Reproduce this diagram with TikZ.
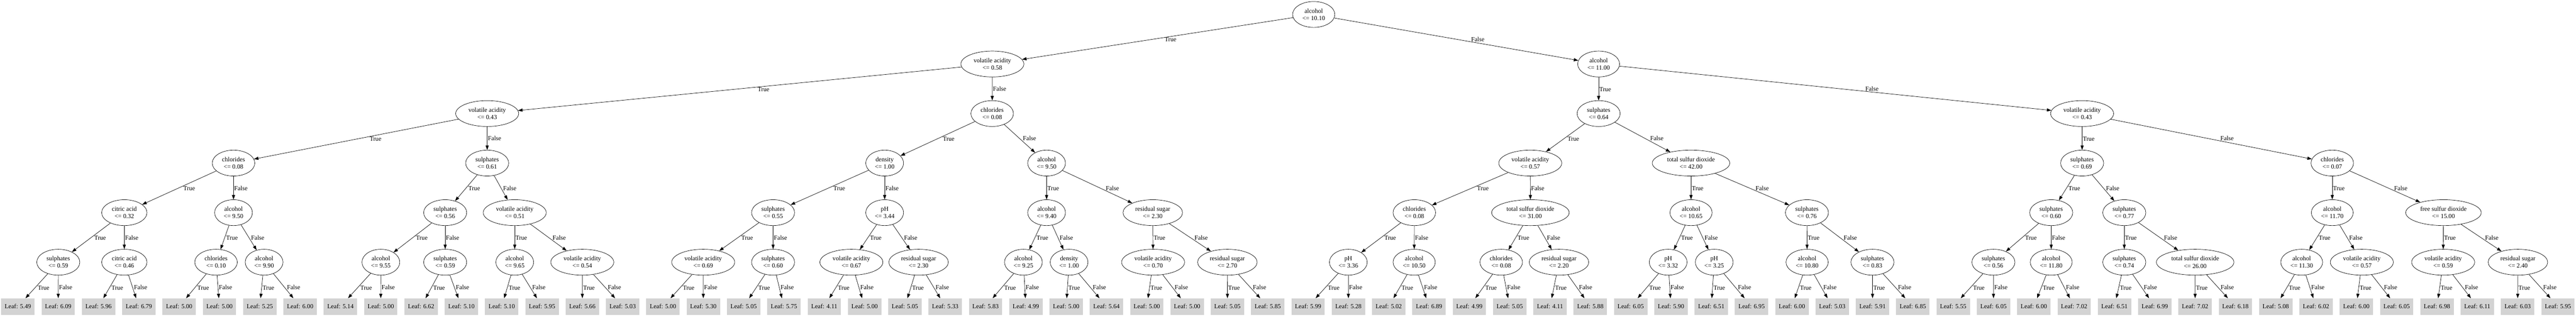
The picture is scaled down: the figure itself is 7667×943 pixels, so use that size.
\documentclass[tikz,border=0pt]{standalone}
\usepackage{fontspec}
\setmainfont{Liberation Serif}
\usetikzlibrary{shapes.geometric,arrows.meta,calc}
\newcommand\gvfont{\fontsize{14}{16.5}\selectfont}
\definecolor{leafgrey}{HTML}{D3D3D3}
\tikzset{
  dn/.style={ellipse, draw, line width=0.8pt, inner xsep=7.92pt, inner ysep=1pt,
    minimum height=57.75pt, minimum width=54pt, align=center, font=\gvfont},
  leaf/.style={rectangle, fill=leafgrey, inner xsep=7.92pt, inner ysep=1pt,
    minimum height=36.75pt, minimum width=54pt, font=\gvfont},
  edge/.style={draw, line width=0.8pt, -{Triangle[length=10pt,width=7pt]}},
  elab/.style={inner sep=0pt, font=\gvfont}
}
\newcommand\tedge[3]{%
  \draw[edge] (#1) -- (#2);
  \node[elab, anchor=north west] at ([xshift=1.5pt]$(#1)!#3!(#2)$) {True};}
\newcommand\fedge[3]{%
  \draw[edge] (#1) -- (#2);
  \node[elab, anchor=south west] at ([xshift=1.5pt]$(#1)!#3!(#2)$) {False};}
\begin{document}
\begin{tikzpicture}[x=0.75pt, y=-0.75pt]
\path[use as bounding box, fill=white] (0,0) rectangle (7667,943);
% level 0
\node[dn] (R) at (3910,43) {alcohol\\<= 10.10};
% level 1
\node[dn] (A0) at (2953.5,190.4) {volatile acidity\\<= 0.58};
\node[dn] (A1) at (4758,190.4) {alcohol\\<= 11.00};
% level 2
\node[dn] (B0) at (1450,337.8) {volatile acidity\\<= 0.43};
\node[dn] (B1) at (2953,337.8) {chlorides\\<= 0.08};
\node[dn] (B2) at (4758,337.8) {sulphates\\<= 0.64};
\node[dn] (B3) at (6197,337.8) {volatile acidity\\<= 0.43};
% level 3
\node[dn] (C0) at (695,485.2) {chlorides\\<= 0.08};
\node[dn] (C1) at (1450,485.2) {sulphates\\<= 0.61};
\node[dn] (C2) at (2633,485.2) {density\\<= 1.00};
\node[dn] (C3) at (3115,485.2) {alcohol\\<= 9.50};
\node[dn] (C4) at (4554.5,485.2) {volatile acidity\\<= 0.57};
\node[dn] (C5) at (5033,485.2) {total sulfur dioxide\\<= 42.00};
\node[dn] (C6) at (6197,485.2) {sulphates\\<= 0.69};
\node[dn] (C7) at (6941.5,485.2) {chlorides\\<= 0.07};
% level 4
\node[dn] (D0) at (370,632.6) {citric acid\\<= 0.32};
\node[dn] (D1) at (695,632.6) {alcohol\\<= 9.50};
\node[dn] (D2) at (1325,632.6) {sulphates\\<= 0.56};
\node[dn] (D3) at (1532,632.6) {volatile acidity\\<= 0.51};
\node[dn] (D4) at (2301,632.6) {sulphates\\<= 0.55};
\node[dn] (D5) at (2633,632.6) {pH\\<= 3.44};
\node[dn] (D6) at (3115,632.6) {alcohol\\<= 9.40};
\node[dn] (D7) at (3431,632.6) {residual sugar\\<= 2.30};
\node[dn] (D8) at (4209.5,632.6) {chlorides\\<= 0.08};
\node[dn] (D9) at (4555,632.6) {total sulfur dioxide\\<= 31.00};
\node[dn] (D10) at (5033,632.6) {alcohol\\<= 10.65};
\node[dn] (D11) at (5378,632.6) {sulphates\\<= 0.76};
\node[dn] (D12) at (6105,632.6) {sulphates\\<= 0.60};
\node[dn] (D13) at (6322.5,632.6) {sulphates\\<= 0.77};
\node[dn] (D14) at (6941.5,632.6) {alcohol\\<= 11.70};
\node[dn] (D15) at (7272.5,632.6) {free sulfur dioxide\\<= 15.00};
% level 5
\node[dn] (E0) at (173.5,780) {sulphates\\<= 0.59};
\node[dn] (E1) at (370,780) {citric acid\\<= 0.46};
\node[dn] (E2) at (643,780) {chlorides\\<= 0.10};
\node[dn] (E3) at (786,780) {alcohol\\<= 9.90};
\node[dn] (E4) at (1133.5,780) {alcohol\\<= 9.55};
\node[dn] (E5) at (1325,780) {sulphates\\<= 0.59};
\node[dn] (E6) at (1532,780) {alcohol\\<= 9.65};
\node[dn] (E7) at (1733,780) {volatile acidity\\<= 0.54};
\node[dn] (E8) at (2093,780) {volatile acidity\\<= 0.69};
\node[dn] (E9) at (2301,780) {sulphates\\<= 0.60};
\node[dn] (E10) at (2534,780) {volatile acidity\\<= 0.67};
\node[dn] (E11) at (2734,780) {residual sugar\\<= 2.30};
\node[dn] (E12) at (3046,780) {alcohol\\<= 9.25};
\node[dn] (E13) at (3182,780) {density\\<= 1.00};
\node[dn] (E14) at (3432,780) {volatile acidity\\<= 0.70};
\node[dn] (E15) at (3653,780) {residual sugar\\<= 2.70};
\node[dn] (E16) at (4013,780) {pH\\<= 3.36};
\node[dn] (E17) at (4209,780) {alcohol\\<= 10.50};
\node[dn] (E18) at (4468,780) {chlorides\\<= 0.08};
\node[dn] (E19) at (4640,780) {residual sugar\\<= 2.20};
\node[dn] (E20) at (4965,780) {pH\\<= 3.32};
\node[dn] (E21) at (5102,780) {pH\\<= 3.25};
\node[dn] (E22) at (5378.5,780) {alcohol\\<= 10.80};
\node[dn] (E23) at (5573,780) {sulphates\\<= 0.83};
\node[dn] (E24) at (5933,780) {sulphates\\<= 0.56};
\node[dn] (E25) at (6105,780) {alcohol\\<= 11.80};
\node[dn] (E26) at (6322.5,780) {sulphates\\<= 0.74};
\node[dn] (E27) at (6533.5,780) {total sulfur dioxide\\<= 26.00};
\node[dn] (E28) at (6850.5,780) {alcohol\\<= 11.30};
\node[dn] (E29) at (7029.5,780) {volatile acidity\\<= 0.57};
\node[dn] (E30) at (7271.5,780) {volatile acidity\\<= 0.59};
\node[dn] (E31) at (7494,780) {residual sugar\\<= 2.40};
% leaves
\foreach \v [count=\i from 0] in {5.49,6.09,5.96,6.79,5.00,5.00,5.25,6.00,
  5.14,5.00,6.62,5.10,5.10,5.95,5.66,5.03,5.00,5.30,5.05,5.75,4.11,5.00,
  5.05,5.33,5.83,4.99,5.00,5.64,5.00,5.00,5.05,5.85,5.99,5.28,5.02,6.89,
  4.99,5.05,4.11,5.88,6.05,5.90,6.51,6.95,6.00,5.03,5.91,6.85,5.55,6.05,
  6.00,7.02,6.51,6.99,7.02,6.18,5.08,6.02,6.00,6.05,6.98,6.11,6.03,5.95}
  {\node[leaf] (L\i) at ({53.3+120*\i},912) {Leaf: \v};}
% edges
\tedge{R}{A0}{0.466}
\fedge{R}{A1}{0.55}
\foreach \p/\c/\n in {A/B/1, B/C/3, C/D/7, D/E/15}{
  \foreach \k in {0,...,\n}{
    \pgfmathtruncatemacro\ka{2*\k}
    \pgfmathtruncatemacro\kb{2*\k+1}
    \tedge{\p\k}{\c\ka}{0.466}
    \fedge{\p\k}{\c\kb}{0.55}
  }
}
\foreach \k in {0,...,31}{
  \pgfmathtruncatemacro\ka{2*\k}
  \pgfmathtruncatemacro\kb{2*\k+1}
  \tedge{E\k}{L\ka}{0.527}
  \fedge{E\k}{L\kb}{0.614}
}
\end{tikzpicture}
\end{document}
